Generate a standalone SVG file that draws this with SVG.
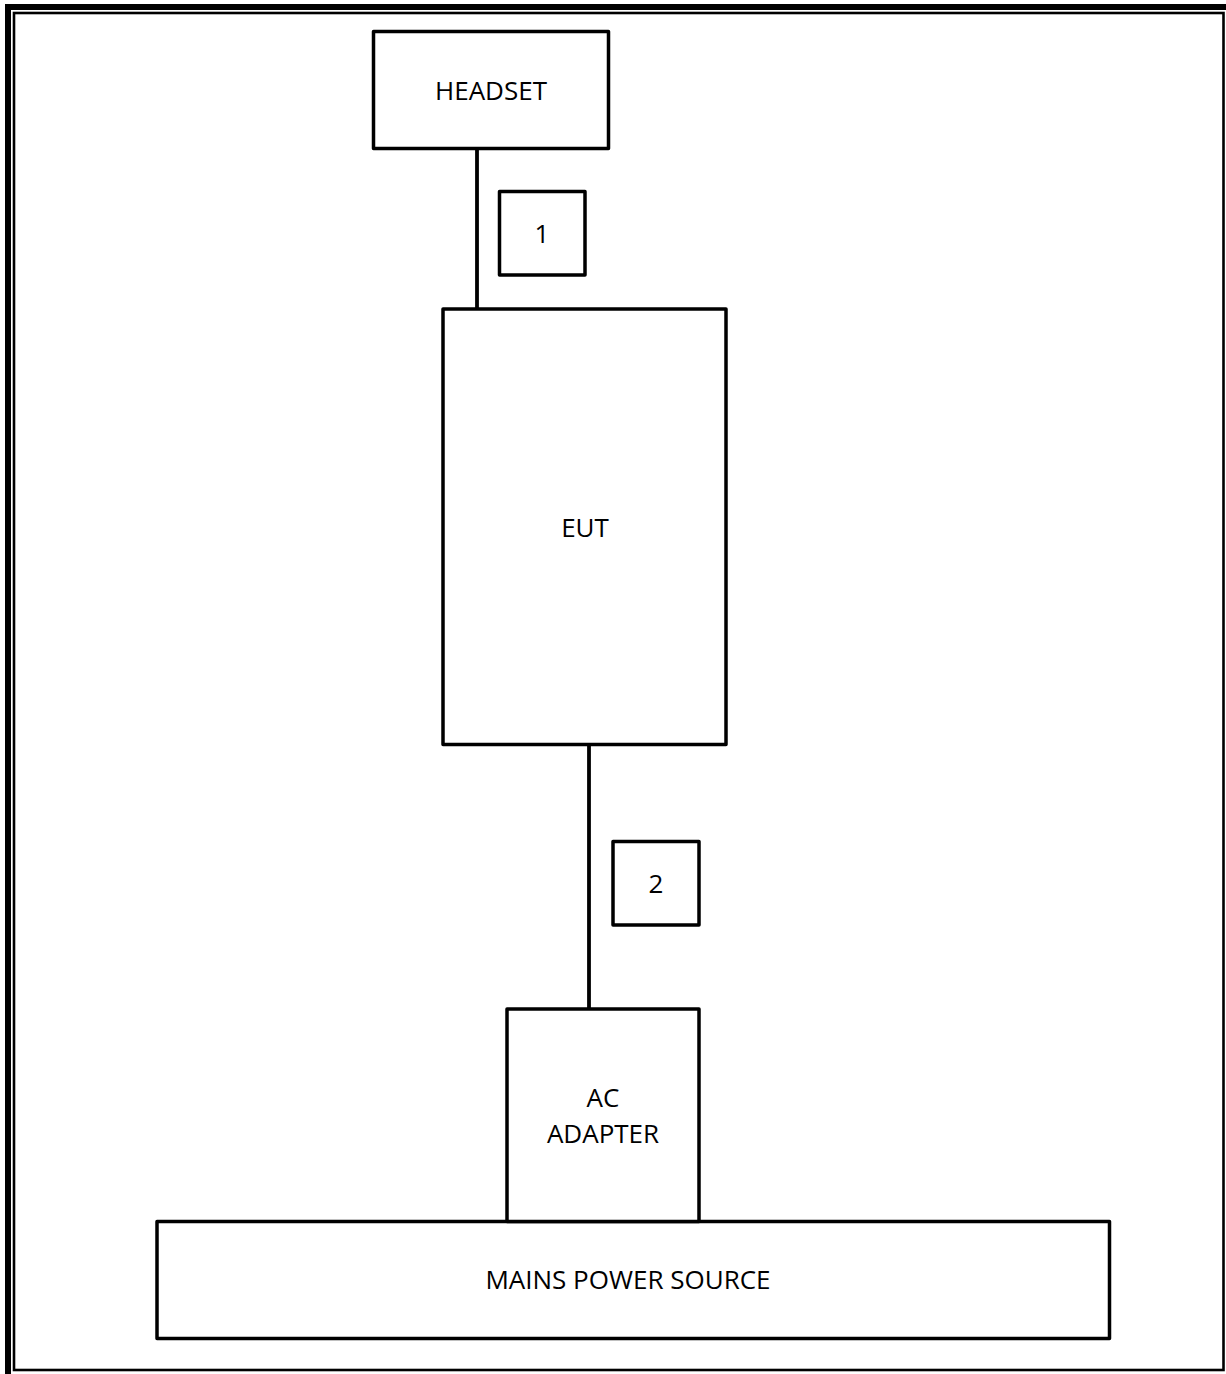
<svg xmlns="http://www.w3.org/2000/svg" width="1226" height="1374" viewBox="0 0 1226 1374">
<style>
.box{fill:#fff;stroke:#000;stroke-width:3.5;stroke-linejoin:round}
.lbl{font-family:"Open Sans","Liberation Sans",sans-serif;font-size:26px;fill:#000;text-anchor:middle}
.wire{stroke:#000;stroke-width:3.8;fill:none}
</style>
<rect width="1226" height="1374" fill="#fff"/>
<g id="frame">
<rect x="5" y="4" width="6" height="1370" fill="#000"/>
<rect x="5" y="4" width="1221" height="6" fill="#000"/>
<rect x="14" y="13" width="1209.5" height="1357" fill="none" stroke="#000" stroke-width="2.6"/>
</g>
<g id="connectors">
<line class="wire" x1="477" y1="148" x2="477" y2="309"/>
<line class="wire" x1="589" y1="744" x2="589" y2="1009"/>
</g>
<g id="headset">
<rect class="box" x="373.5" y="31.5" width="235" height="117"/>
<text class="lbl" x="491" y="100">HEADSET</text>
</g>
<g id="label1">
<rect class="box" x="499.5" y="191.5" width="85.5" height="83.5"/>
<text class="lbl" x="542" y="243">1</text>
</g>
<g id="eut">
<rect class="box" x="443" y="309" width="283" height="435.5"/>
<text class="lbl" x="585" y="537">EUT</text>
</g>
<g id="label2">
<rect class="box" x="613" y="841.5" width="86" height="83.5"/>
<text class="lbl" x="656" y="893">2</text>
</g>
<g id="mains">
<rect class="box" x="157" y="1221.5" width="952.5" height="117"/>
<text class="lbl" x="628" y="1289">MAINS POWER SOURCE</text>
</g>
<g id="adapter">
<rect class="box" x="507" y="1009" width="192" height="212.5"/>
<text class="lbl" x="603" y="1107">AC</text>
<text class="lbl" x="603" y="1143">ADAPTER</text>
</g>
</svg>
